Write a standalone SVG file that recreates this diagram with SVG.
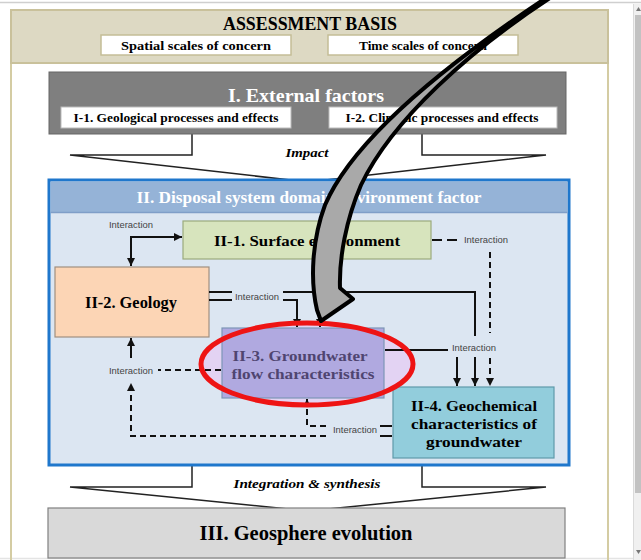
<svg xmlns="http://www.w3.org/2000/svg" width="641" height="560" viewBox="0 0 641 560">
  <style>
    .serif { font-family: "Liberation Serif", "DejaVu Serif", serif; font-weight: bold; }
    .lbl { font-family: "Liberation Sans", Arial, sans-serif; font-size: 9px; fill: #444; }
    .wire { fill: none; stroke: #111; stroke-width: 2; }
    .dash { fill: none; stroke: #111; stroke-width: 2; stroke-dasharray: 6 4; }
    .chev { fill: #fff; stroke: #222; stroke-width: 1.5; stroke-linejoin: miter; }
    .wbox { fill: #fff; stroke: #c4bd97; stroke-width: 1.5; }
  </style>
  <defs>
    <marker id="ah" viewBox="0 0 8 8" refX="8" refY="4" markerWidth="8" markerHeight="8" markerUnits="userSpaceOnUse" orient="auto-start-reverse">
      <path d="M0,0 L8,4 L0,8 z" fill="#111"/>
    </marker>
  </defs>

  <!-- page and viewer chrome -->
  <rect x="0" y="0" width="641" height="560" fill="#fff"/>
  <line x1="0" y1="2.5" x2="641" y2="2.5" stroke="#cfcfcf" stroke-width="1.5"/>
  <rect x="634" y="4" width="7" height="556" fill="#f0f0f0"/>
  <line x1="633.5" y1="4" x2="633.5" y2="560" stroke="#dadada"/>
  <rect x="635" y="15" width="6" height="478" fill="#c2c2c2"/>
  <path d="M636 11 L638.5 7 L641 11 z" fill="#777"/>
  <path d="M636 550 L638.5 554 L641 550 z" fill="#777"/>
  <line x1="0" y1="558.5" x2="633" y2="558.5" stroke="#e4e4e4" stroke-width="1.5"/>
  <line x1="11" y1="62" x2="11" y2="560" stroke="#d4cca3" stroke-width="2"/>
  <line x1="608" y1="62" x2="608" y2="560" stroke="#d4cca3" stroke-width="2"/>

  <!-- assessment basis header -->
  <g id="assessment-basis">
    <rect x="11" y="10" width="597" height="53" fill="#ddd9c3" stroke="#c9c19b" stroke-width="2"/>
    <text class="serif" x="310" y="30" font-size="18" text-anchor="middle" textLength="174" lengthAdjust="spacingAndGlyphs">ASSESSMENT BASIS</text>
    <rect class="wbox" x="101" y="35" width="190" height="20"/>
    <text class="serif" x="196" y="49.5" font-size="12" text-anchor="middle" textLength="150" lengthAdjust="spacingAndGlyphs">Spatial scales of concern</text>
    <rect class="wbox" x="328" y="35" width="190" height="20"/>
    <text class="serif" x="423" y="49.5" font-size="12" text-anchor="middle" textLength="128" lengthAdjust="spacingAndGlyphs">Time scales of concern</text>
  </g>

  <!-- impact arrow -->
  <g id="impact-arrow">
    <path class="chev" d="M192 133 L192 155 L70 155 L308 182 L546 155 L422 155 L422 133"/>
    <text class="serif" x="307" y="156.5" font-size="13" font-style="italic" text-anchor="middle" textLength="43" lengthAdjust="spacingAndGlyphs">Impact</text>
  </g>

  <!-- external factors -->
  <g id="external-factors">
    <rect x="49" y="72" width="517" height="62" fill="#7f7f7f" stroke="#666" stroke-width="1"/>
    <text class="serif" x="306" y="102" font-size="19" fill="#fff" text-anchor="middle" textLength="156" lengthAdjust="spacingAndGlyphs">I. External factors</text>
    <rect x="61" y="107" width="230" height="21" fill="#fff" stroke="#bbb"/>
    <text class="serif" x="176" y="122" font-size="12" text-anchor="middle" textLength="205" lengthAdjust="spacingAndGlyphs">I-1. Geological processes and effects</text>
    <rect x="329" y="107" width="228" height="21" fill="#fff" stroke="#bbb"/>
    <text class="serif" x="442" y="122" font-size="12" text-anchor="middle" textLength="193" lengthAdjust="spacingAndGlyphs">I-2. Climatic processes and effects</text>
  </g>

  <!-- integration arrow -->
  <g id="integration-arrow">
    <path class="chev" d="M192 465 L192 487 L70 487 L308 511 L546 487 L422 487 L422 465"/>
    <text class="serif" x="307" y="487.5" font-size="13" font-style="italic" text-anchor="middle" textLength="147" lengthAdjust="spacingAndGlyphs">Integration &amp; synthesis</text>
  </g>

  <!-- disposal system container -->
  <g id="disposal-system">
    <rect x="49" y="180" width="520" height="285" fill="#dce6f2" stroke="#1f77cc" stroke-width="3"/>
    <rect x="50.5" y="181.5" width="517" height="31" fill="#95b3d7"/>
    <line x1="50.5" y1="212.5" x2="567.5" y2="212.5" stroke="#7f9ec8" stroke-width="1.5"/>
    <text class="serif" x="309" y="203" font-size="16" fill="#fff" text-anchor="middle" textLength="345" lengthAdjust="spacingAndGlyphs" style="font-weight:600">II. Disposal system domain environment factor</text>
  </g>

  <!-- geosphere evolution -->
  <g id="geosphere-evolution">
    <rect x="48" y="508" width="517" height="50" fill="#d9d9d9" stroke="#808080" stroke-width="1.2"/>
    <text class="serif" x="306" y="540" font-size="20" text-anchor="middle" textLength="213" lengthAdjust="spacingAndGlyphs">III. Geosphere evolution</text>
  </g>

  <g id="surface-environment">
    <rect x="183" y="221" width="248" height="38" fill="#d7e4bd" stroke="#9bab7c" stroke-width="1.2"/>
    <text class="serif" x="307" y="245.5" font-size="15.5" text-anchor="middle" textLength="186" lengthAdjust="spacingAndGlyphs">II-1. Surface environment</text>
  </g>

  <g id="geology">
    <rect x="55" y="267" width="154" height="70" fill="#fcd5b5" stroke="#a09080" stroke-width="1.2"/>
    <text class="serif" x="131" y="307.5" font-size="16" text-anchor="middle" textLength="92" lengthAdjust="spacingAndGlyphs">II-2. Geology</text>
  </g>

  <!-- highlight fill behind the groundwater flow node -->
  <g id="highlight-fill">
    <ellipse cx="307" cy="364" rx="106" ry="41" fill="#e3d3f3"/>
  </g>

  <g id="groundwater-flow">
    <rect x="222" y="328" width="162" height="70" fill="#b0a9e0" stroke="#7d96b6" stroke-width="1.2"/>
    <text class="serif" x="300" y="360.5" font-size="15.5" fill="#4f4570" text-anchor="middle" textLength="135" lengthAdjust="spacingAndGlyphs">II-3. Groundwater</text>
    <text class="serif" x="303" y="378.5" font-size="15.5" fill="#4f4570" text-anchor="middle" textLength="143" lengthAdjust="spacingAndGlyphs">flow characteristics</text>
  </g>

  <g id="geochemical">
    <rect x="393" y="387" width="161" height="71" fill="#92cddc" stroke="#5f9aaa" stroke-width="1.2"/>
    <text class="serif" x="474" y="410.5" font-size="15.5" text-anchor="middle" textLength="126" lengthAdjust="spacingAndGlyphs">II-4. Geochemical</text>
    <text class="serif" x="474" y="428.5" font-size="15.5" text-anchor="middle" textLength="126" lengthAdjust="spacingAndGlyphs">characteristics of</text>
    <text class="serif" x="474" y="447" font-size="15.5" text-anchor="middle" textLength="96" lengthAdjust="spacingAndGlyphs">groundwater</text>
  </g>

  <!-- interaction connectors -->
  <g id="connectors">
    <!-- surface environment <-> geology -->
    <path class="wire" d="M131 266 V237 H182" marker-start="url(#ah)" marker-end="url(#ah)"/>
    <text class="lbl" x="131" y="228" text-anchor="middle" textLength="44" lengthAdjust="spacingAndGlyphs">Interaction</text>

    <!-- geology -> groundwater flow / geochemical -->
    <path class="wire" d="M209 292 H232 M209 300 H232"/>
    <text class="lbl" x="257" y="299.5" text-anchor="middle" textLength="44" lengthAdjust="spacingAndGlyphs">Interaction</text>
    <path class="wire" d="M283 292 H475 V336"/>
    <path class="wire" d="M283 300 H297 V327" marker-end="url(#ah)"/>
    <path class="wire" d="M320 300 V327" marker-end="url(#ah)"/>

    <!-- surface environment -> geochemical (dashed) -->
    <path class="wire" d="M432 240 H442 M447 240 H457"/>
    <text class="lbl" x="486" y="243" text-anchor="middle" textLength="44" lengthAdjust="spacingAndGlyphs">Interaction</text>
    <path class="dash" d="M490 252 V333"/>

    <!-- groundwater flow -> geochemical -->
    <path class="wire" d="M385 350 H448"/>
    <text class="lbl" x="474" y="350.5" text-anchor="middle" textLength="44" lengthAdjust="spacingAndGlyphs">Interaction</text>
    <path class="wire" d="M457 357 V386" marker-end="url(#ah)"/>
    <path class="wire" d="M475 357 V386" marker-end="url(#ah)"/>
    <path class="dash" d="M490 358 V386" stroke-dasharray="2 6 8 20" marker-end="url(#ah)"/>

    <!-- groundwater flow -> geology -->
    <path class="dash" d="M221 370 H158"/>
    <text class="lbl" x="131" y="374" text-anchor="middle" textLength="44" lengthAdjust="spacingAndGlyphs">Interaction</text>
    <path class="wire" d="M131 358 V338" marker-end="url(#ah)"/>

    <!-- geochemical -> groundwater flow / geology (dashed) -->
    <path class="wire" d="M392 426 H380 M392 436 H380"/>
    <text class="lbl" x="355" y="433" text-anchor="middle" textLength="44" lengthAdjust="spacingAndGlyphs">Interaction</text>
    <path class="dash" d="M326 426 H307 V399" marker-end="url(#ah)"/>
    <path class="dash" d="M326 436 H131 V383" marker-end="url(#ah)"/>
  </g>

  <!-- red highlight ring -->
  <g id="highlight-ring">
    <ellipse cx="307" cy="364" rx="106" ry="41" fill="none" stroke="#ee1414" stroke-width="5"/>
  </g>

  <!-- curved pointer arrow, narrowing to a thin band toward its tail -->
  <g id="pointer">
    <path d="M553 -4 C470 50 392 120 361 185 C346 220 339 258 340 288 L353 299 L321 321 L317 310 C310 280 312 240 325 205 C352 142 440 68 549 -4 Z" fill="#a9a9a9" stroke="#000" stroke-width="4" stroke-linejoin="round"/>
  </g>
</svg>
